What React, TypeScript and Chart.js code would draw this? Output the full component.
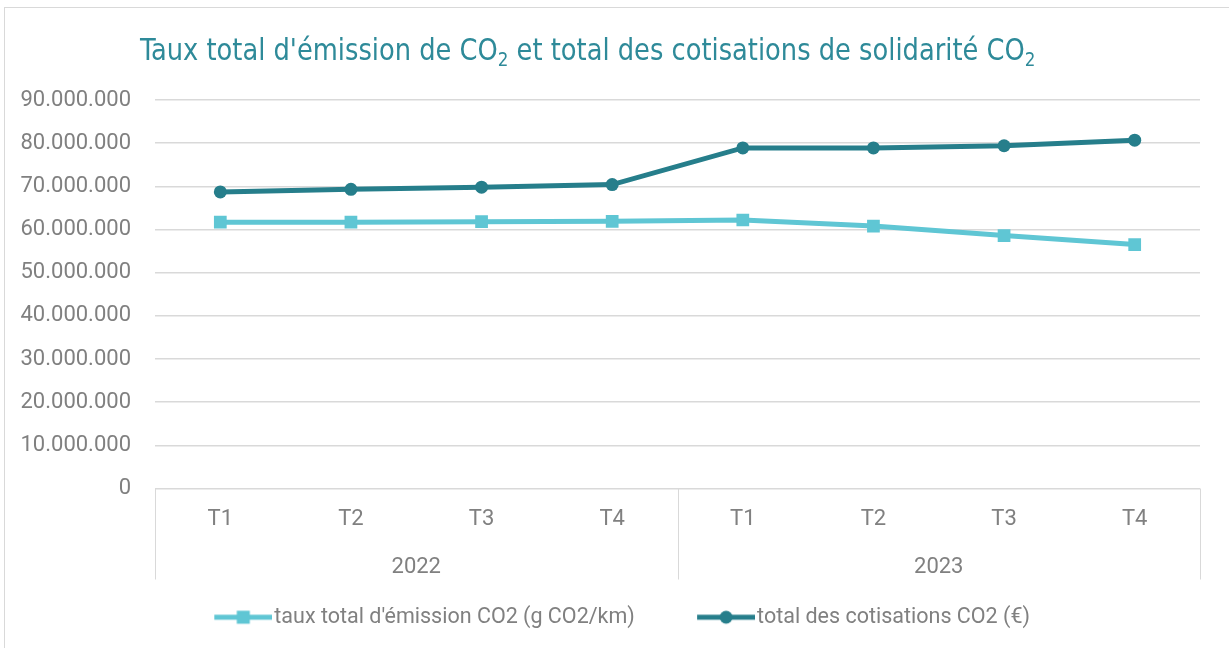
import React, { useEffect, useRef } from "react";
import { Chart, registerables } from "chart.js";

Chart.register(...registerables);

const quarters = ["T1", "T2", "T3", "T4", "T1", "T2", "T3", "T4"];
const years = ["2022", "2023"];
const quartersPerYear = 4;
const emissionValues = [61.7e6, 61.7e6, 61.8e6, 61.9e6, 62.2e6, 60.8e6, 58.6e6, 56.5e6];
const cotisationValues = [68.7e6, 69.3e6, 69.8e6, 70.4e6, 78.9e6, 78.9e6, 79.4e6, 80.7e6];
const seriesNames = ["taux total d'émission CO2 (g CO2/km)", "total des cotisations CO2 (€)"];
const yMin = 0;
const yMax = 90000000;
const yStep = 10000000;

const LIGHT = "#5fc6d4";
const DARK = "#267e8b";
const TEXT = "#808080";
const GRID = "#d9d9d9";
const FONT = "Roboto, 'Liberation Sans', sans-serif";
const LEGEND_GAP = 53;
const LEGEND_PAD = 18;
const LEGEND_FONT = 21.5;

function fmt(v: number): string {
  return String(Math.round(v)).replace(/\B(?=(\d{3})+(?!\d))/g, ".");
}

function legendImage(color: string, marker: "rect" | "circle"): HTMLCanvasElement {
  const w = LEGEND_GAP + 58;
  const h = 16;
  const c = document.createElement("canvas");
  c.width = w;
  c.height = h;
  const g = c.getContext("2d")!;
  g.strokeStyle = color;
  g.lineWidth = 5;
  g.beginPath();
  g.moveTo(LEGEND_GAP, h / 2);
  g.lineTo(w, h / 2);
  g.stroke();
  g.fillStyle = color;
  const cx = LEGEND_GAP + 29;
  if (marker === "rect") {
    g.fillRect(cx - 6.5, h / 2 - 6.5, 13, 13);
  } else {
    g.beginPath();
    g.arc(cx, h / 2, 6.5, 0, Math.PI * 2);
    g.fill();
  }
  return c;
}

const groupPlugin = {
  id: "yearGroups",
  afterDraw(chart: any) {
    const x = chart.scales.x;
    const area = chart.chartArea;
    const ctx = chart.ctx;
    const step = x.getPixelForValue(1) - x.getPixelForValue(0);
    ctx.save();
    ctx.strokeStyle = GRID;
    ctx.lineWidth = 1;
    ctx.fillStyle = TEXT;
    ctx.font = `22px ${FONT}`;
    ctx.textAlign = "center";
    ctx.textBaseline = "middle";
    for (let g = 0; g < years.length; g++) {
      const left = x.getPixelForValue(g * quartersPerYear) - step / 2;
      const right = x.getPixelForValue(g * quartersPerYear + quartersPerYear - 1) + step / 2;
      ctx.beginPath();
      ctx.moveTo(Math.round(left) + 0.5, area.bottom);
      ctx.lineTo(Math.round(left) + 0.5, area.bottom + 91);
      if (g === years.length - 1) {
        ctx.moveTo(Math.round(right) + 0.5, area.bottom);
        ctx.lineTo(Math.round(right) + 0.5, area.bottom + 91);
      }
      ctx.stroke();
      ctx.fillText(years[g], (left + right) / 2, area.bottom + 79);
    }
    ctx.restore();
  },
};

export default function App() {
  const ref = useRef<HTMLCanvasElement | null>(null);

  useEffect(() => {
    if (!ref.current) return;
    const imgs = [legendImage(LIGHT, "rect"), legendImage(DARK, "circle")];
    const chart = new Chart(ref.current, {
      type: "line",
      data: {
        labels: quarters,
        datasets: [
          {
            label: seriesNames[0],
            data: emissionValues,
            borderColor: LIGHT,
            backgroundColor: LIGHT,
            borderWidth: 5,
            pointStyle: "rect",
            pointRadius: 9,
            pointBorderWidth: 0,
            pointBackgroundColor: LIGHT,
            tension: 0,
          },
          {
            label: seriesNames[1],
            data: cotisationValues,
            borderColor: DARK,
            backgroundColor: DARK,
            borderWidth: 5,
            pointStyle: "circle",
            pointRadius: 6.5,
            pointBorderWidth: 0,
            pointBackgroundColor: DARK,
            tension: 0,
          },
        ],
      },
      options: {
        animation: false,
        responsive: false,
        layout: { padding: { left: 0, right: 29, top: 100, bottom: 10 } },
        plugins: {
          title: { display: false },
          tooltip: { enabled: false },
          legend: {
            position: "bottom",
            labels: {
              usePointStyle: true,
              pointStyleWidth: LEGEND_GAP + 58 + 4 - LEGEND_FONT,
              padding: LEGEND_PAD,
              color: TEXT,
              font: { family: FONT, size: LEGEND_FONT },
              generateLabels: (chart: any) =>
                chart.data.datasets.map((ds: any, i: number) => ({
                  text: ds.label,
                  pointStyle: imgs[i],
                  fillStyle: ds.borderColor,
                  strokeStyle: ds.borderColor,
                  fontColor: TEXT,
                  lineWidth: 0,
                  hidden: false,
                  datasetIndex: i,
                })),
            },
          },
        },
        scales: {
          x: {
            offset: true,
            grid: { display: false, drawTicks: false, offset: true },
            border: { display: false },
            ticks: {
              color: TEXT,
              padding: 18,
              maxRotation: 0,
              autoSkip: false,
              font: { family: FONT, size: 22 },
            },
            afterFit: (s: any) => {
              s.height = 100;
            },
          },
          y: {
            min: yMin,
            max: yMax,
            grid: { color: GRID, lineWidth: 1.5, drawTicks: false },
            border: { display: false },
            ticks: {
              stepSize: yStep,
              color: TEXT,
              padding: 24,
              font: { family: FONT, size: 22 },
              callback: (v: any) => fmt(Number(v)),
            },
            afterFit: (s: any) => {
              s.width = 155;
            },
          },
        },
      },
      plugins: [groupPlugin],
    });
    return () => chart.destroy();
  }, []);

  return (
    <div
      style={{
        position: "fixed",
        left: 0,
        top: 0,
        width: 1229,
        height: 648,
        overflow: "hidden",
        background: "#ffffff",
      }}
    >
      <div
        style={{
          position: "absolute",
          left: 4,
          top: 7,
          width: 1300,
          height: 700,
          border: `1px solid ${GRID}`,
        }}
      />
      <canvas
        ref={ref}
        width={1229}
        height={648}
        style={{ position: "absolute", left: 0, top: 0 }}
      />
      <div
        style={{
          position: "absolute",
          left: 140,
          top: 34,
          whiteSpace: "nowrap",
          fontFamily: "'Liberation Sans Narrow', 'DejaVu Sans Condensed', sans-serif",
          fontSize: 31,
          lineHeight: 1,
          color: "#2e8a99",
          transform: "scaleX(0.923)",
          transformOrigin: "left top",
        }}
      >
        Taux total d'émission de CO
        <sub style={{ fontSize: "0.65em", verticalAlign: "-0.3em" }}>2</sub> et total des cotisations de
        solidarité CO<sub style={{ fontSize: "0.65em", verticalAlign: "-0.3em" }}>2</sub>
      </div>
    </div>
  );
}
